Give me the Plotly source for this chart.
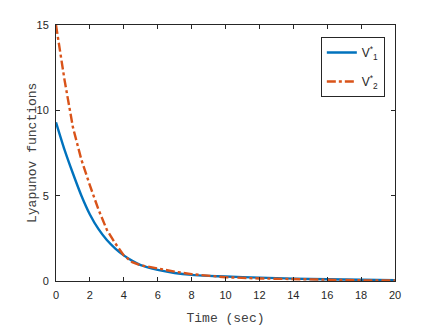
import plotly.graph_objects as go

t_v1 = [0, 0.5, 1, 1.5, 2, 2.5, 3, 3.5, 4, 4.5, 5, 6, 7, 8, 9, 10, 12, 14, 16, 18, 20]
v1 = [9.3, 7.7, 6.3, 5.0, 3.9, 3.05, 2.4, 1.9, 1.5, 1.18, 0.93, 0.65, 0.47, 0.36, 0.3, 0.26, 0.2, 0.14, 0.1, 0.07, 0.05]

t_v2 = [0, 0.5, 1, 1.5, 2, 2.5, 3, 3.5, 4, 4.5, 5, 6, 7, 8, 9, 10, 12, 14, 16, 18, 20]
v2 = [15.0, 11.8, 9.0, 7.1, 5.6, 4.2, 3.0, 2.2, 1.5, 1.1, 0.92, 0.72, 0.55, 0.4, 0.3, 0.22, 0.15, 0.1, 0.06, 0.04, 0.03]

x_ticks = [0, 2, 4, 6, 8, 10, 12, 14, 16, 18, 20]
y_ticks = [0, 5, 10, 15]

fig = go.Figure()
fig.add_trace(go.Scatter(x=t_v1, y=v1, mode="lines", name="V<sup>*</sup><sub>1</sub>",
                         legendgroup="a",
                         line=dict(color="#0072BD", width=2.4, shape="spline", smoothing=0.6)))
fig.add_trace(go.Scatter(x=t_v2, y=v2, mode="lines", name="V<sup>*</sup><sub>2</sub>",
                         legendgroup="b",
                         line=dict(color="#D95319", width=2.4, dash="dashdot")))

axis_common = dict(showgrid=False, zeroline=False, showline=True, linecolor="#262626",
                   linewidth=1, mirror="ticks", ticks="inside", ticklen=4,
                   tickcolor="#262626", ticklabelstandoff=4,
                   tickfont=dict(family="Liberation Sans", size=11, color="#262626"))

fig.update_xaxes(range=[0, 20], tickvals=x_ticks,
                 title=dict(text="Time (sec)", font=dict(family="Liberation Mono", size=13, color="#404040"),
                            standoff=12),
                 **axis_common)
fig.update_yaxes(range=[0, 15], tickvals=y_ticks, **axis_common)

fig.add_annotation(text="Lyapunov functions", xref="paper", yref="paper",
                   x=0, y=0.5, xshift=-24, xanchor="center", yanchor="middle",
                   textangle=-90, showarrow=False,
                   font=dict(family="Liberation Mono", size=13, color="#404040"))

# page has an 8px body margin; margins compensate so the plot area matches the reference
fig.update_layout(
    width=436, height=327,
    margin=dict(l=48, r=49, t=17, b=54, autoexpand=False),
    plot_bgcolor="white", paper_bgcolor="white",
    showlegend=True,
    legend=dict(x=0.97, y=0.953, xanchor="right", yanchor="top",
                bordercolor="#262626", borderwidth=1, bgcolor="white",
                font=dict(family="Liberation Sans", size=12, color="#262626"),
                tracegroupgap=10, itemwidth=30),
)

fig.write_html("out.html")
